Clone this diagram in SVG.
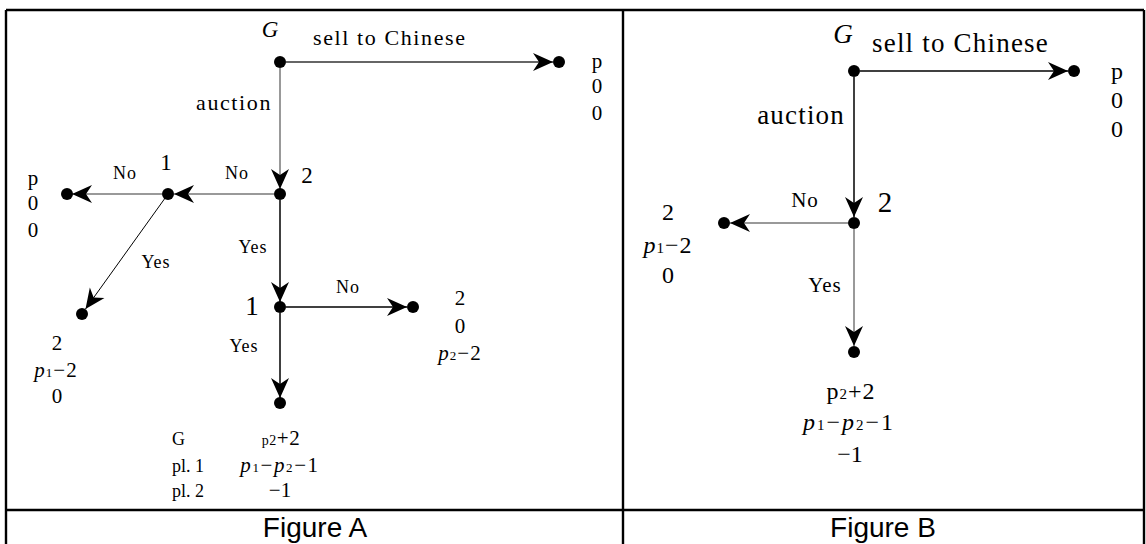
<svg xmlns="http://www.w3.org/2000/svg" width="1146" height="544" viewBox="0 0 1146 544">
<defs>
<style>
.t{font-family:"Liberation Serif","Times New Roman",serif;fill:#000}
.lbA{font-size:22px;letter-spacing:1.6px}
.lbB{font-size:27px;letter-spacing:1.2px}
.edA{font-size:18px;letter-spacing:1px;text-anchor:middle}
.edB{font-size:21px;letter-spacing:1px;text-anchor:middle}
.pa{font-size:21px;text-anchor:middle}
.pb{font-size:24px;text-anchor:middle}
.it{font-style:italic}
.dot{fill:#000}
.c{fill:none;stroke-width:1.5}
.k{stroke:#000}
.g{stroke:#777}
.d{stroke:#333}
.frame{stroke:#000;stroke-width:2.4;fill:none}
.cap{font-family:"Liberation Sans",Arial,sans-serif;font-size:28px;text-anchor:middle;fill:#000}
</style>
<marker id="ah" viewBox="-21 -10 22 20" refX="0" refY="0" markerWidth="22" markerHeight="20" markerUnits="userSpaceOnUse" orient="auto">
<path d="M0,0 L-20,-9 L-14,0 L-20,9 Z" fill="#000"/>
</marker>
</defs>
<rect x="0" y="0" width="1146" height="544" fill="#fff"/>
<g id="frame">
<path class="frame" d="M6,10 H1144 M6,10 V544 M1144,10 V544 M623,10 V544 M6,510 H1144"/>
<text class="cap" x="315" y="537">Figure A</text>
<text class="cap" x="883" y="537">Figure B</text>
</g>
<g id="connectors">
<line class="c d" x1="286" y1="62" x2="553" y2="62" marker-end="url(#ah)"/>
<line class="c g" x1="280" y1="68" x2="280" y2="189" marker-end="url(#ah)"/>
<line class="c g" x1="274" y1="194" x2="174" y2="194" marker-end="url(#ah)"/>
<line class="c g" x1="162" y1="194" x2="72" y2="194" marker-end="url(#ah)"/>
<line class="k" stroke-width="1" x1="168" y1="194" x2="85.5" y2="309" marker-end="url(#ah)"/>
<line class="c k" x1="280" y1="200" x2="280" y2="302" marker-end="url(#ah)"/>
<line class="c k" x1="286" y1="307" x2="407" y2="307" marker-end="url(#ah)"/>
<line class="c k" x1="280" y1="313" x2="280" y2="398" marker-end="url(#ah)"/>
<line class="c k" x1="860" y1="71" x2="1068" y2="71" marker-end="url(#ah)"/>
<line class="c k" x1="854" y1="77" x2="854" y2="217" marker-end="url(#ah)"/>
<line class="c g" x1="848" y1="223" x2="730" y2="223" marker-end="url(#ah)"/>
<line class="c g" x1="854" y1="229" x2="854" y2="346" marker-end="url(#ah)"/>
<text class="t lbA" x="313" y="45">sell to Chinese</text>
<text class="t lbA" x="272" y="110" text-anchor="end">auction</text>
<text class="t edA" x="125" y="179">No</text>
<text class="t edA" x="237" y="179">No</text>
<text class="t edA" x="156" y="268">Yes</text>
<text class="t edA" x="253" y="253">Yes</text>
<text class="t edA" x="348" y="293">No</text>
<text class="t edA" x="244" y="352">Yes</text>
<text class="t lbB" x="872" y="52">sell to Chinese</text>
<text class="t lbB" x="845" y="124" text-anchor="end">auction</text>
<text class="t edB" x="805" y="207">No</text>
<text class="t edB" x="825" y="292">Yes</text>
</g>
<g id="A_G">
<circle class="dot" cx="280" cy="62" r="6"/>
<text class="t it" x="270" y="37" font-size="23" text-anchor="middle">G</text>
</g>
<g id="A_node2">
<circle class="dot" cx="280" cy="194" r="6"/>
<text class="t" x="307" y="183" font-size="23" text-anchor="middle">2</text>
</g>
<g id="A_node1a">
<circle class="dot" cx="168" cy="194" r="6"/>
<text class="t" x="166" y="170" font-size="23" text-anchor="middle">1</text>
</g>
<g id="A_node1b">
<circle class="dot" cx="280" cy="307" r="6"/>
<text class="t" x="252" y="315" font-size="27" text-anchor="middle">1</text>
</g>
<g id="A_leaf_sell">
<circle class="dot" cx="559" cy="62" r="6"/>
<text class="t pa" x="597" y="68">p</text>
<text class="t pa" x="597" y="93">0</text>
<text class="t pa" x="597" y="120">0</text>
</g>
<g id="A_leaf_no1">
<circle class="dot" cx="67" cy="194" r="6"/>
<text class="t pa" x="33" y="185">p</text>
<text class="t pa" x="33" y="210">0</text>
<text class="t pa" x="33" y="237">0</text>
</g>
<g id="A_leaf_yes1">
<circle class="dot" cx="82" cy="314" r="6"/>
<text class="t pa" x="57" y="350">2</text>
<text class="t pa" x="56" y="377" letter-spacing="1"><tspan class="it">p</tspan><tspan font-size="13">1</tspan>−2</text>
<text class="t pa" x="57" y="403">0</text>
</g>
<g id="A_leaf_no2">
<circle class="dot" cx="413" cy="307" r="6"/>
<text class="t pa" x="460" y="305">2</text>
<text class="t pa" x="460" y="333">0</text>
<text class="t pa" x="460" y="360" letter-spacing="1"><tspan class="it">p</tspan><tspan font-size="13">2</tspan>−2</text>
</g>
<g id="A_leaf_yes2">
<circle class="dot" cx="280" cy="403" r="6"/>
<text class="t pa" x="281" y="445" letter-spacing="0.5"><tspan font-size="14">p2</tspan>+2</text>
<text class="t pa" x="280" y="472" letter-spacing="1.6"><tspan class="it">p</tspan><tspan font-size="13">1</tspan>−<tspan class="it">p</tspan><tspan font-size="13">2</tspan>−1</text>
<text class="t pa" x="280" y="497">−1</text>
<text class="t" x="172" y="445" font-size="18">G</text>
<text class="t" x="172" y="472" font-size="18">pl. 1</text>
<text class="t" x="172" y="497" font-size="18">pl. 2</text>
</g>
<g id="B_G">
<circle class="dot" cx="854" cy="71" r="6"/>
<text class="t it" x="843" y="43" font-size="27" text-anchor="middle">G</text>
</g>
<g id="B_node2">
<circle class="dot" cx="854" cy="223" r="6"/>
<text class="t" x="885" y="212" font-size="29" text-anchor="middle">2</text>
</g>
<g id="B_leaf_sell">
<circle class="dot" cx="1074" cy="71" r="6"/>
<text class="t pb" x="1117" y="79">p</text>
<text class="t pb" x="1117" y="108">0</text>
<text class="t pb" x="1117" y="137">0</text>
</g>
<g id="B_leaf_no">
<circle class="dot" cx="724" cy="223" r="6"/>
<text class="t pb" x="668" y="220">2</text>
<text class="t pb" x="668" y="253" letter-spacing="1"><tspan class="it">p</tspan><tspan font-size="15">1</tspan>−2</text>
<text class="t pb" x="668" y="283">0</text>
</g>
<g id="B_leaf_yes">
<circle class="dot" cx="854" cy="352" r="6"/>
<text class="t pb" x="851" y="399" letter-spacing="1">p<tspan font-size="15">2</tspan>+2</text>
<text class="t pb" x="849" y="430" letter-spacing="2"><tspan class="it">p</tspan><tspan font-size="15">1</tspan>−<tspan class="it">p</tspan><tspan font-size="15">2</tspan>−1</text>
<text class="t pb" x="850" y="462">−1</text>
</g>
</svg>
